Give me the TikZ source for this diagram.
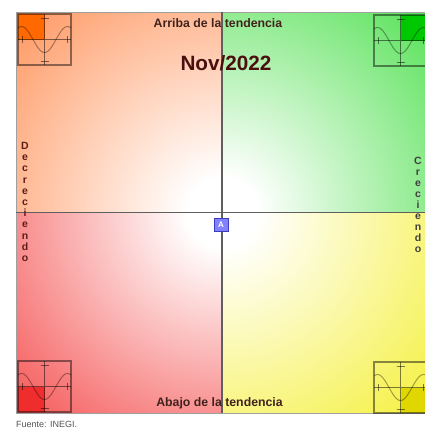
\documentclass[tikz,border=0pt]{standalone}
\usepackage{fontspec}
\setmainfont{Liberation Sans}
\definecolor{qorange}{RGB}{255,150,95}
\definecolor{qgreen}{RGB}{85,225,85}
\definecolor{qred}{RGB}{245,85,85}
\definecolor{qyellow}{RGB}{245,240,60}
\definecolor{iorange}{RGB}{255,105,0}
\definecolor{igreen}{RGB}{0,200,0}
\definecolor{ired}{RGB}{240,45,45}
\definecolor{iyellow}{RGB}{225,215,0}
\definecolor{txtbrown}{RGB}{65,35,30}
\definecolor{navred}{RGB}{75,15,15}
\definecolor{axisgray}{RGB}{95,95,95}
\definecolor{framegray}{RGB}{160,160,160}
\definecolor{afill}{RGB}{130,130,255}
\definecolor{adraw}{RGB}{60,60,190}
\definecolor{srcgray}{RGB}{85,85,85}
\pgfdeclareradialshading{shorange}{\pgfpoint{0bp}{0bp}}{color(0bp)=(white); color(3bp)=(white); color(25bp)=(qorange); color(50bp)=(qorange)}
\pgfdeclareradialshading{shgreen}{\pgfpoint{0bp}{0bp}}{color(0bp)=(white); color(3bp)=(white); color(25bp)=(qgreen); color(50bp)=(qgreen)}
\pgfdeclareradialshading{shred}{\pgfpoint{0bp}{0bp}}{color(0bp)=(white); color(3bp)=(white); color(25bp)=(qred); color(50bp)=(qred)}
\pgfdeclareradialshading{shyellow}{\pgfpoint{0bp}{0bp}}{color(0bp)=(white); color(3bp)=(white); color(25bp)=(qyellow); color(50bp)=(qyellow)}
\tikzset{
  iconframe/.style={draw=black, draw opacity=0.45, line width=1.3pt},
  iconaxis/.style={draw=black, draw opacity=0.5, line width=0.9pt},
  iconcurve/.style={draw=black, draw opacity=0.35, line width=1pt},
  toplabel/.style={inner sep=0pt, anchor=base, text=txtbrown, font=\fontsize{12.3}{14}\selectfont\bfseries},
  vletter/.style={inner sep=0pt, anchor=base, font=\fontsize{10.5}{12}\selectfont\bfseries},
  abox/.style={draw=adraw, fill=afill, line width=0.8pt, minimum width=14pt, minimum height=13pt, inner sep=0pt, text=white, font=\fontsize{8}{8}\selectfont\bfseries},
}
\newcommand\trendicon[4]{%
  \begin{scope}[shift={#1}]
    \fill[#4] #2 rectangle #3;
    \draw[iconframe] (0,0) rectangle (53,51);
    \draw[iconaxis] (26.5,0) -- (26.5,51) (0,25.5) -- (53,25.5);
    \draw[iconaxis] (22.5,4) -- (30.5,4) (22.5,47) -- (30.5,47) (4,22) -- (4,29) (49,22) -- (49,29);
    \draw[iconcurve] plot[domain=0:53,samples=60,smooth] (\x,{25.5+13*cos(360*(\x-26.5)/46)});
  \end{scope}}
\begin{document}
\begin{tikzpicture}[x=1pt,y=-1pt]
\useasboundingbox (0,0) rectangle (424,432);
\fill[white] (0,0) rectangle (424,432);
% quadrant shadings
\begin{scope}\clip (16,12) rectangle (222,212.5); \shade[shading=shorange] (222,212.5) circle (290pt); \end{scope}
\begin{scope}\clip (222,12) rectangle (432,212.5); \shade[shading=shgreen] (222,212.5) circle (290pt); \end{scope}
\begin{scope}\clip (16,212.5) rectangle (222,413); \shade[shading=shred] (222,212.5) circle (290pt); \end{scope}
\begin{scope}\clip (222,212.5) rectangle (432,413); \shade[shading=shyellow] (222,212.5) circle (290pt); \end{scope}
% frame
\draw[framegray, line width=1pt] (16,12) rectangle (432,413);
% icons
\trendicon{(18,14)}{(0,0)}{(26.5,25.5)}{iorange}
\trendicon{(374,15)}{(26.5,0)}{(53,25.5)}{igreen}
\trendicon{(18,361)}{(0,25.5)}{(26.5,51)}{ired}
\trendicon{(374,362)}{(26.5,25.5)}{(53,51)}{iyellow}
% axes
\coordinate (vtop) at (222,12);
\coordinate (vbot) at (222,413);
\coordinate (hleft) at (16,212.5);
\coordinate (hright) at (432,212.5);
\draw[axisgray, line width=1.3pt] (vtop) -- (vbot);
\draw[axisgray, line width=1.3pt] (hleft) -- (hright);
% labels
\node[toplabel] (arriba) at (218,27) {Arriba de la tendencia};
\node[toplabel] (abajo) at (219.5,406) {Abajo de la tendencia};
\node[inner sep=0pt, anchor=base, text=navred, font=\fontsize{20.7}{24}\selectfont\bfseries] (nov) at (226,70) {Nov/2022};
\foreach \ch [count=\i] in {D,e,c,r,e,c,i,e,n,d,o}
  \node[vletter, text=txtbrown!85!red] (dec\i) at (25,{149.5+11.2*(\i-1)}) {\ch};
\foreach \ch [count=\i] in {C,r,e,c,i,e,n,d,o}
  \node[vletter, text=black!75] (cre\i) at (418,{164+11*(\i-1)}) {\ch};
\node[abox] (A) at (221,224.5) {A};
\node[inner sep=0pt, anchor=base west, text=srcgray, font=\fontsize{9}{10}\selectfont] (fuente) at (16,427) {Fuente: INEGI.};
\end{tikzpicture}
\end{document}
